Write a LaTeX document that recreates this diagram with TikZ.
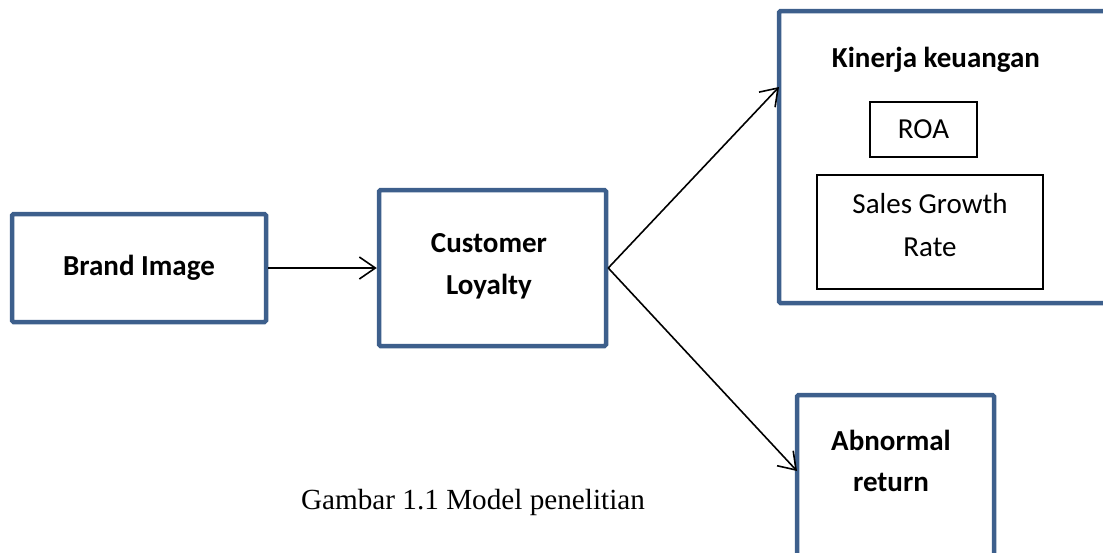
\documentclass[tikz,border=0pt]{standalone}
\usepackage{fontspec}
\setmainfont{Carlito}
\newfontfamily\capfont{Liberation Serif}
\usetikzlibrary{arrows.meta}
\definecolor{boxblue}{HTML}{3D5F8C}
\tikzset{
  outer/.style={draw=boxblue, line width=4.5pt, rounded corners=1.5pt, fill=white, inner sep=0pt, font=\fontsize{29}{42}\selectfont\bfseries, align=center},
  inner/.style={draw=black, line width=1.2pt, inner sep=0pt, font=\fontsize{29}{43}\selectfont, align=center},
  conn/.style={draw=black, line width=1.6pt, -{Straight Barb[length=16pt, width=22pt, line width=1.6pt]}}
}
\begin{document}
\begin{tikzpicture}[x=1pt, y=-1pt]
\useasboundingbox (0,0) rectangle (1103,552);
\clip (0,0) rectangle (1103,552);
\node[outer, minimum width=254pt, minimum height=108pt] (brand) at (139,268) {Brand Image};
\node[outer, minimum width=227pt, minimum height=156pt] (loyal) at (492.5,268) {};
\node[font=\fontsize{29}{42}\selectfont\bfseries, align=center] (loyaltext) at (489,266) {Customer\\Loyalty};
\node[outer, minimum width=340pt, minimum height=292pt] (kin) at (949,157) {};
\node[font=\fontsize{29}{32}\selectfont\bfseries] (kintitle) at (936,60) {Kinerja keuangan};
\node[inner, minimum width=107pt, minimum height=55pt] (roa) at (923.5,129.5) {ROA};
\node[inner, minimum width=226pt, minimum height=114pt] (sales) at (930,232) {};
\node[font=\fontsize{29}{43}\selectfont, align=center] (salestext) at (930,225) {Sales Growth\\Rate};
\node[outer, minimum width=197pt, minimum height=200pt] (abn) at (895.5,495) {};
\node[font=\fontsize{29}{41}\selectfont\bfseries, align=center] (abntext) at (891,461) {Abnormal\\return};
\coordinate (kinin) at (779,87);
\coordinate (abnin) at (797,471);
\node[font=\capfont\fontsize{29.2}{34}\selectfont] (cap) at (473,502) {Gambar 1.1 Model penelitian};
\draw[conn] (brand.east) -- (loyal.west);
\draw[conn] (loyal.east) -- (kinin);
\draw[conn] (loyal.east) -- (abnin);
\end{tikzpicture}
\end{document}
